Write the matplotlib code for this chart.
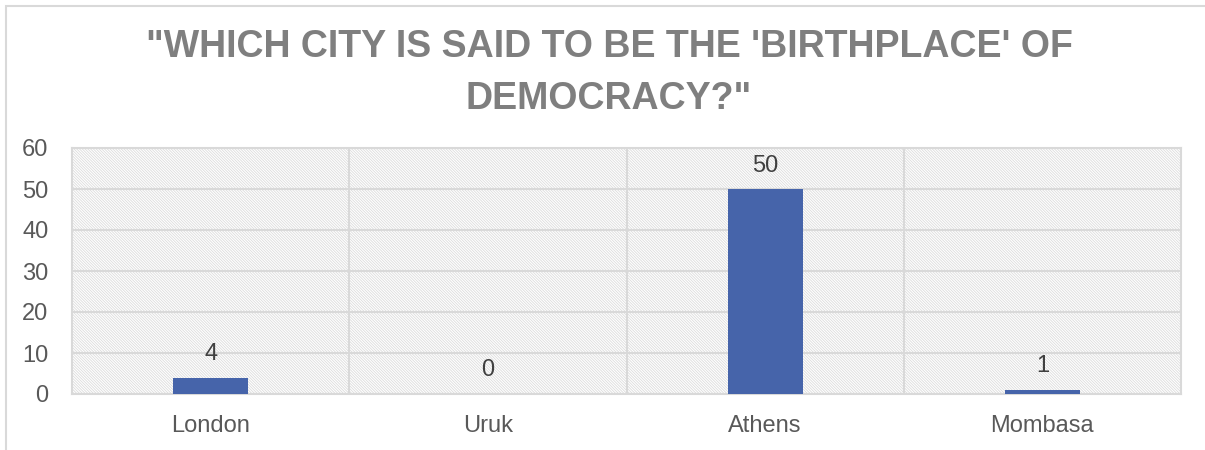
import matplotlib.pyplot as plt
from matplotlib.patches import Rectangle

cities = ["London", "Uruk", "Athens", "Mombasa"]
votes = [4, 0, 50, 1]
y_ticks = [0, 10, 20, 30, 40, 50, 60]
title = "\"WHICH CITY IS SAID TO BE THE 'BIRTHPLACE' OF\nDEMOCRACY?\""

BAR_COLOR = "#4664aa"
GRID = "#d9d9d9"
TEXT = "#595959"

plt.rcParams["font.family"] = ["Liberation Sans", "DejaVu Sans"]
plt.rcParams["hatch.color"] = "#dcdcdc"
plt.rcParams["hatch.linewidth"] = 0.6

fig = plt.figure(figsize=(12.05, 4.5), dpi=100)
W, H = 1205, 450

# outer chart border (only top/left visible, rest runs off the edge)
fig.patches.append(Rectangle((6 / W, -0.1), 1.2, (444 / H) + 0.1,
                             transform=fig.transFigure, fill=False,
                             edgecolor=GRID, linewidth=1.5))

left, right, top, bottom = 72, 1181, 148, 394
ax = fig.add_axes([left / W, 1 - bottom / H, (right - left) / W, (bottom - top) / H])

# hatched plot background
ax.add_patch(Rectangle((0, 0), 1, 1, transform=ax.transAxes, facecolor="white",
                       hatch="\\" * 12, linewidth=0, zorder=0))

x = range(len(cities))
ax.bar(x, votes, width=0.27, color=BAR_COLOR, zorder=3)
for xi, v in zip(x, votes):
    ax.annotate(str(v), (xi, v), xytext=(0, 9), textcoords="offset points",
                ha="center", va="bottom", fontsize=17, color="#404040", zorder=4)

ax.set_xlim(-0.5, len(cities) - 0.5)
ax.set_ylim(0, 60)
ax.set_yticks(y_ticks)
ax.set_xticks(list(x))
ax.set_xticklabels(cities)

for y in y_ticks:
    ax.axhline(y, color=GRID, linewidth=1.5, zorder=2)
for b in [0.5, 1.5, 2.5]:
    ax.axvline(b, color=GRID, linewidth=1.5, zorder=2)

for s in ax.spines.values():
    s.set_color(GRID)
    s.set_linewidth(1.5)
    s.set_zorder(2)

ax.tick_params(axis="both", length=0, labelsize=17, labelcolor=TEXT)
ax.tick_params(axis="x", pad=15)
ax.tick_params(axis="y", pad=17)

fig.text(609 / W, 1 - 73 / H, title, ha="center", va="center", fontsize=27,
         fontweight="bold", color="#7f7f7f", linespacing=1.6)

fig.savefig("out.png", dpi=100)
